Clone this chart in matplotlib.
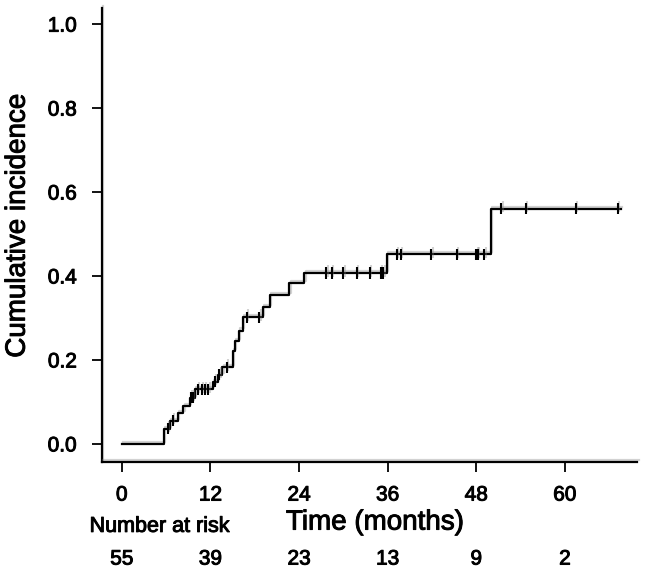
import matplotlib
matplotlib.use('Agg')
import matplotlib.pyplot as plt
import matplotlib.patheffects as pe
import numpy as np

plt.rcParams['font.family'] = ['Liberation Sans', 'DejaVu Sans']

# step curve (months, cumulative incidence)
event_times = [0, 5.7, 6.5, 7.6, 8.3, 9.2, 9.9, 12.3, 13.0, 13.6, 15.0, 15.3, 15.8,
               16.4, 19.1, 20.0, 22.7, 24.7, 35.9, 50.0, 67.6]
cum_inc = [0, 0.036, 0.055, 0.073, 0.091, 0.11, 0.13, 0.148, 0.165, 0.183, 0.222, 0.245,
           0.27, 0.302, 0.326, 0.355, 0.383, 0.407, 0.452, 0.56, 0.56]

# censored observations
censor_times = [6.2, 6.9, 9.3, 9.6, 10.3, 10.8, 11.2, 11.7, 12.6, 13.2, 14.2, 16.9, 18.6,
                27.7, 28.4, 30.0, 31.8, 33.6, 35.1, 35.4, 37.2, 37.8, 41.9, 45.4, 48.0,
                48.2, 49.1, 51.4, 54.7, 61.5, 67.2]

x_ticks = [0, 12, 24, 36, 48, 60]
at_risk = [55, 39, 23, 13, 9, 2]

fig = plt.figure(figsize=(6.45, 5.84), dpi=100)
ax = fig.add_axes([0.158, 0.209, 0.830, 0.777])

shadow = [pe.SimpleLineShadow(offset=(1, 1.5), shadow_color='gray', alpha=0.35), pe.Normal()]
heavy = [pe.withStroke(linewidth=0.7, foreground='black')]

ax.step(event_times, cum_inc, where='post', color='black', lw=1.6, path_effects=shadow)

idx = np.searchsorted(event_times, censor_times, side='right') - 1
cy = np.array(cum_inc)[idx]
ax.plot(censor_times, cy, ls='none', marker='|', ms=8, mew=1.5, color='black',
        path_effects=shadow)

ax.set_xlim(-2.7, 69.8)
ax.set_ylim(-0.043, 1.038)
ax.set_xticks(x_ticks)
ax.set_yticks([0, 0.2, 0.4, 0.6, 0.8, 1.0])
ax.set_yticklabels(['0.0', '0.2', '0.4', '0.6', '0.8', '1.0'])

for s in ['top', 'right']:
    ax.spines[s].set_visible(False)
for s in ['left', 'bottom']:
    ax.spines[s].set_linewidth(1.6)
    ax.spines[s].set_path_effects(shadow)

ax.tick_params(axis='both', direction='out', length=7, width=1.3, labelsize=15, colors='black')
ax.tick_params(axis='x', pad=10)
ax.tick_params(axis='y', pad=11)
for lab in ax.get_xticklabels() + ax.get_yticklabels():
    lab.set_path_effects(heavy)

ax.set_ylabel('Cumulative incidence', fontsize=20, path_effects=heavy)
ax.yaxis.set_label_coords(-0.133, 0.52)
ax.set_xlabel('Time (months)', fontsize=20, path_effects=heavy)
ax.xaxis.set_label_coords(0.51, -0.105)

tr = ax.get_xaxis_transform()
ax.text(5.1, -0.142, 'Number at risk', fontsize=15.5, ha='center', va='center',
        transform=tr, path_effects=heavy)
for t, n in zip(x_ticks, at_risk):
    ax.text(t, -0.214, str(n), fontsize=15, ha='center', va='center', transform=tr,
            path_effects=heavy)

fig.savefig('out.png', dpi=100)
